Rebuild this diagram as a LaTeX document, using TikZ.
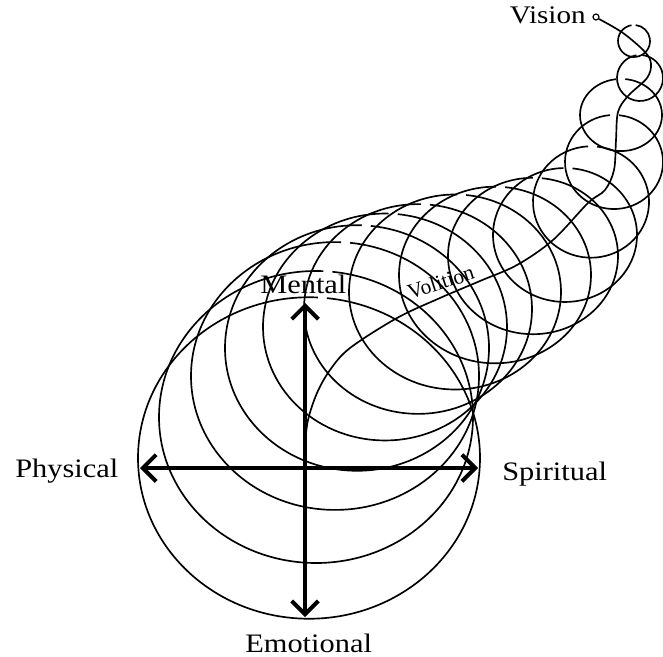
\documentclass[tikz,border=0pt]{standalone}
\usepackage{fontspec}
\setmainfont{Liberation Serif}
\usetikzlibrary{arrows.meta}
\begin{document}
\begin{tikzpicture}[x=0.75pt,y=-0.75pt,
  ring/.style={line width=1.25pt},
  axis/.style={line width=3.6pt,{Straight Barb[length=10pt,width=20pt,line width=3pt]}-{Straight Barb[length=10pt,width=20pt,line width=3pt]}},
  lbl/.style={font=\fontsize{20pt}{24pt}\selectfont,xscale=1.14,inner sep=0pt},
  small/.style={font=\fontsize{19pt}{22pt}\selectfont,xscale=1.15,inner sep=0pt},
  tiny/.style={font=\fontsize{16pt}{19pt}\selectfont,inner sep=0pt}]
\useasboundingbox (0,0) rectangle (663,656);
% rings, each with a small gap near its top
\foreach \cx/\cy/\r/\k in {309/458/171/0.94,316/417/157/0.93,335/376/144/0.93,357/348/132/0.93,385/327/122/0.93,418/309/114/0.92,455/292/106/0.92,495/275/96/0.92,533/256/85/0.92,565/235/72/0.93,591/202/58/0.96,614/162/49/0.96,621/115/41/0.88,640/78/23/1,634/41/16/1}{
  \pgfmathsetmacro\rx{\r*0.75}
  \pgfmathsetmacro\ry{\r*\k*0.75}
  \pgfmathsetmacro\gap{min(15,520/\r)}
  \pgfmathsetmacro\sa{84+\gap}
  \pgfmathsetmacro\ea{84+360}
  \draw[ring] (\cx,\cy) ++(\sa:\rx pt and \ry pt) arc[start angle=\sa, end angle=\ea, x radius=\rx pt, y radius=\ry pt];
}
% vision
\node[circle,draw,line width=0.9pt,inner sep=0pt,minimum size=4.5pt] (vdot) at (596,17) {};
\node[small,anchor=base east] (vision) at (586,24) {Vision};
\draw[ring] plot[smooth,tension=0.55] coordinates {(599,19) (623,33) (645,52) (651,64) (647,78) (628,96) (618,112) (616,140) (614,170) (605,190) (588,203) (553,240) (517,265) (480,281) (440,298) (397,318) (350,348) (330,370) (317,393) (308,420) (305,445)};
\node[tiny,rotate=18,anchor=base] (volition) at (443,289) {Volition};
% axes
\coordinate (O) at (305,468);
\coordinate (L) at (140,468);
\coordinate (R) at (478,468);
\coordinate (T) at (305,303);
\coordinate (B) at (305,617);
\draw[axis] (L) -- (R);
\draw[axis] (T) -- (B);
\node[lbl,anchor=base west] (phys) at (15,477) {Physical};
\node[lbl,anchor=base west] (spir) at (502,480) {Spiritual};
\node[lbl,anchor=base west] (emo) at (245,652) {Emotional};
\node[lbl,anchor=base west] (ment) at (260,293) {Mental};
\end{tikzpicture}
\end{document}
